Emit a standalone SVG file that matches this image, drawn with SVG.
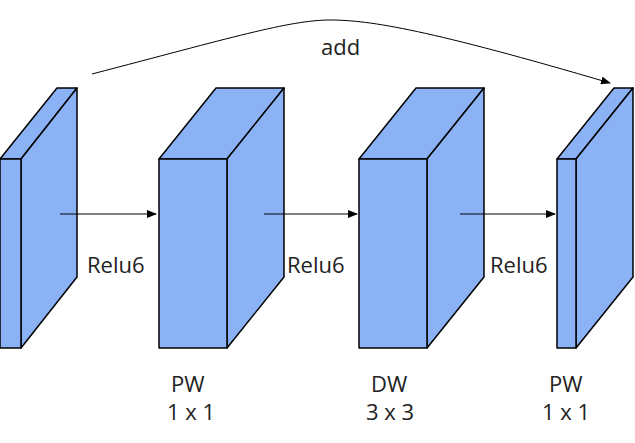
<svg xmlns="http://www.w3.org/2000/svg" width="635" height="443" viewBox="0 0 635 443">
<defs>
<style>
.f{fill:#8ab2f4;stroke:#000;stroke-width:1.5;stroke-linejoin:round}
.c{fill:none;stroke:#000;stroke-width:1}
text{font-family:"Open Sans","Noto Sans",sans-serif;font-size:22px;fill:#222}
</style>
<marker id="ah" markerWidth="10" markerHeight="8" refX="9" refY="4" orient="auto" markerUnits="userSpaceOnUse">
<path d="M0,0 L10,4 L0,8 z" fill="#000"/>
</marker>
</defs>
<g id="block1">
<polygon class="f" points="0,159 57,88 77,88 21,159"/>
<polygon class="f" points="21,159 77,88 77,277 21,348"/>
<rect class="f" x="0" y="159" width="21" height="189"/>
</g>
<g id="block2">
<polygon class="f" points="159,159 216,88 284,88 227,159"/>
<polygon class="f" points="227,159 284,88 284,277 227,348"/>
<rect class="f" x="159" y="159" width="68" height="189"/>
</g>
<g id="block3">
<polygon class="f" points="359,159 416,88 484,88 427,159"/>
<polygon class="f" points="427,159 484,88 484,277 427,348"/>
<rect class="f" x="359" y="159" width="68" height="189"/>
</g>
<g id="block4">
<polygon class="f" points="557,159 614,88 633,88 576,159"/>
<polygon class="f" points="576,159 633,88 633,277 576,348"/>
<rect class="f" x="557" y="159" width="19" height="189"/>
</g>
<g id="connectors">
<line class="c" x1="60" y1="214" x2="156" y2="214" marker-end="url(#ah)"/>
<line class="c" x1="264" y1="214" x2="357" y2="214" marker-end="url(#ah)"/>
<line class="c" x1="460" y1="214" x2="555" y2="214" marker-end="url(#ah)"/>
<path class="c" d="M92,74 C230,38 290,20 330,20 C370,20 430,30 610,83" marker-end="url(#ah)"/>
</g>
<g id="labels">
<text x="87" y="273">Relu6</text>
<text x="287" y="273">Relu6</text>
<text x="490" y="273">Relu6</text>
<text x="321" y="55">add</text>
<text x="171" y="392">PW</text>
<text x="167" y="420">1 x 1</text>
<text x="371" y="392">DW</text>
<text x="366" y="420">3 x 3</text>
<text x="549" y="392">PW</text>
<text x="542" y="420">1 x 1</text>
</g>
</svg>
